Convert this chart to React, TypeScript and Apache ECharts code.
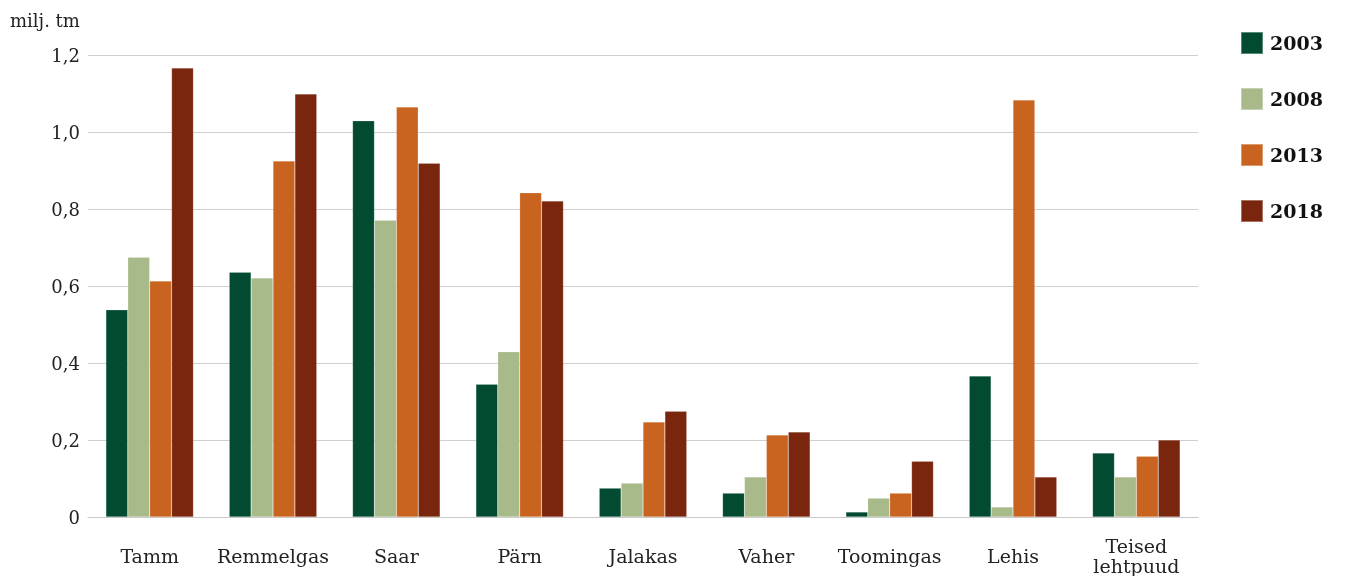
import React, { useEffect, useRef } from "react";
import * as echarts from "echarts";

const categories = ["Tamm", "Remmelgas", "Saar", "Pärn", "Jalakas", "Vaher", "Toomingas", "Lehis", "Teised\nlehtpuud"];
const years = ["2003", "2008", "2013", "2018"];
const v2003 = [0.538, 0.636, 1.029, 0.345, 0.075, 0.062, 0.013, 0.366, 0.166];
const v2008 = [0.675, 0.621, 0.771, 0.429, 0.088, 0.104, 0.049, 0.026, 0.104];
const v2013 = [0.613, 0.925, 1.065, 0.842, 0.247, 0.213, 0.062, 1.083, 0.158];
const v2018 = [1.166, 1.099, 0.919, 0.821, 0.275, 0.221, 0.145, 0.104, 0.2];
const colors = ["#024b30", "#a8b98a", "#c86420", "#7a260e"];
const seriesValues = [v2003, v2008, v2013, v2018];

const FONT = "DejaVu Serif";

export default function App() {
  const ref = useRef<HTMLDivElement>(null);
  useEffect(() => {
    if (!ref.current) return;
    const chart = echarts.init(ref.current, undefined, { renderer: "svg" });
    chart.setOption({
      animation: false,
      textStyle: { fontFamily: FONT },
      grid: { left: 88, right: 149, top: 55, bottom: 59, outerBoundsMode: "none", containLabel: false },
      legend: {
        orient: "vertical",
        left: 1235,
        top: 26,
        itemWidth: 22,
        itemHeight: 22,
        itemGap: 32,
        icon: "rect",
        textStyle: { fontFamily: FONT, fontSize: 19, fontWeight: "bold", color: "#111", padding: [0, 0, 0, 2] },
        data: years,
      },
      xAxis: {
        type: "category",
        data: categories,
        axisLine: { lineStyle: { color: "#c8c8c8", width: 1 } },
        axisTick: { show: false },
        axisLabel: {
          fontFamily: FONT,
          fontSize: 19,
          color: "#222",
          margin: 39,
          lineHeight: 20,
          verticalAlign: "middle",
          interval: 0,
        },
      },
      yAxis: {
        type: "value",
        min: 0,
        max: 1.2,
        interval: 0.2,
        name: "milj. tm",
        nameLocation: "end",
        nameGap: 0,
        nameTextStyle: { fontFamily: FONT, fontSize: 18, color: "#222", align: "left", verticalAlign: "bottom", padding: [0, 0, 26, -78] },
        axisLine: { show: false },
        axisTick: { show: false },
        splitLine: { lineStyle: { color: "#cfcfcf", width: 1 } },
        axisLabel: {
          fontFamily: FONT,
          fontSize: 18,
          color: "#222",
          margin: 8,
          formatter: (v: number) => (v === 0 ? "0" : v.toFixed(1).replace(".", ",")),
        },
      },
      series: years.map((y, i) => ({
        name: y,
        type: "bar",
        data: seriesValues[i],
        barGap: "0%",
        barCategoryGap: "29%",
        itemStyle: { color: colors[i], borderColor: "rgba(255,255,255,0.35)", borderWidth: 0.5 },
      })),
    });
    return () => chart.dispose();
  }, []);
  return <div ref={ref} style={{ position: "fixed", left: 0, top: 0, width: 1347, height: 576 }} />;
}
